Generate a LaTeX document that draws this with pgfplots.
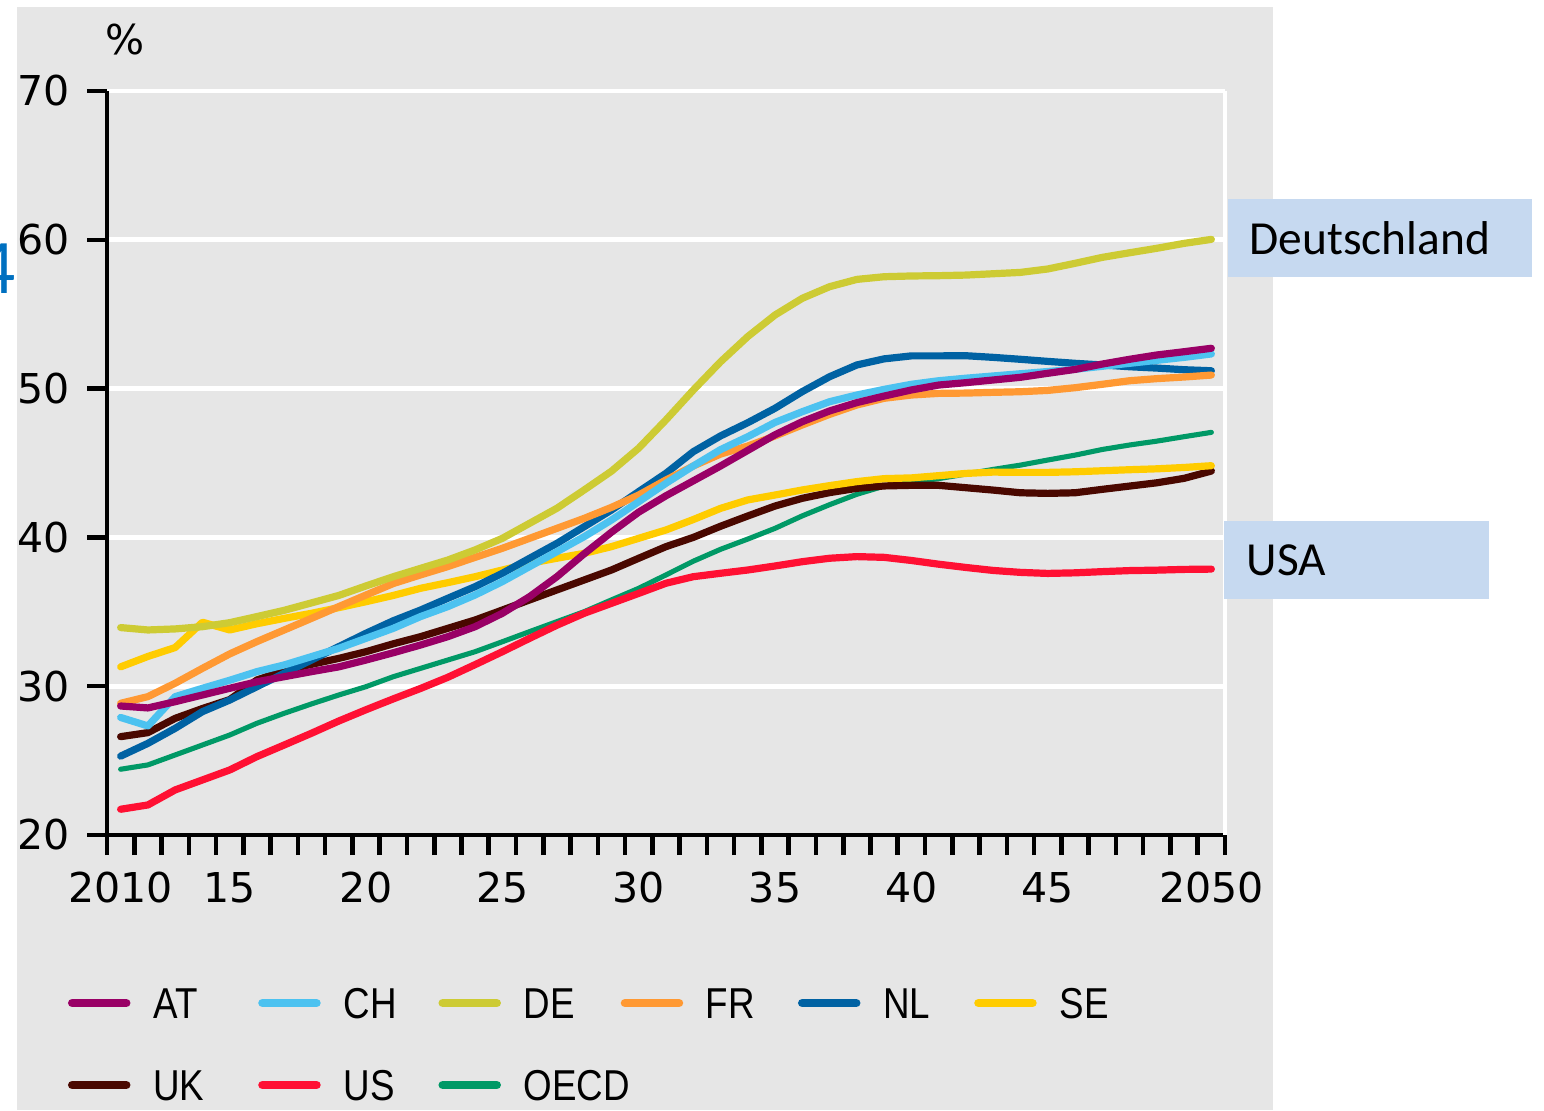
\documentclass[border=0pt]{standalone}
\usepackage{pgfplots}
\pgfplotsset{compat=1.18}
\usepackage{pgfplotstable}
\usepackage{fontspec}
\setmainfont{DejaVu Sans}
\newfontfamily\legfont[FakeStretch=0.85]{Liberation Sans}
\newfontfamily\boxfont{Carlito}

\definecolor{cAT}{HTML}{990066}
\definecolor{cCH}{HTML}{4CC2F0}
\definecolor{cDE}{HTML}{CDCB34}
\definecolor{cFR}{HTML}{FF9933}
\definecolor{cNL}{HTML}{0062A3}
\definecolor{cSE}{HTML}{FFCC00}
\definecolor{cUK}{HTML}{4A0800}
\definecolor{cUS}{HTML}{FF1033}
\definecolor{cOECD}{HTML}{009966}
\definecolor{panel}{HTML}{E6E6E6}
\definecolor{boxblue}{HTML}{C6D9F0}
\definecolor{slideblue}{HTML}{0070C0}

\pgfplotstableread{
i AT CH DE FR NL SE UK US OECD
0 28.67 27.90 33.94 28.85 25.30 31.30 26.61 21.73 24.42
1 28.54 27.33 33.78 29.30 26.16 32.00 26.88 22.02 24.71
2 28.96 29.30 33.85 30.20 27.17 32.60 27.84 23.03 25.38
3 29.41 29.86 34.00 31.20 28.29 34.30 28.50 23.70 26.05
4 29.86 30.40 34.27 32.17 29.07 33.78 29.10 24.37 26.72
5 30.30 30.98 34.68 33.00 29.97 34.20 30.42 25.27 27.51
6 30.64 31.43 35.10 33.78 30.87 34.56 31.05 26.05 28.18
7 30.98 31.99 35.60 34.56 31.76 34.90 31.47 26.84 28.81
8 31.30 32.55 36.10 35.35 32.66 35.28 31.87 27.66 29.41
9 31.76 33.22 36.74 36.13 33.56 35.68 32.32 28.42 29.97
10 32.25 33.89 37.36 36.90 34.40 36.10 32.85 29.15 30.64
11 32.77 34.68 37.92 37.48 35.12 36.58 33.33 29.85 31.20
12 33.33 35.35 38.48 38.04 35.91 36.96 33.89 30.60 31.76
13 34.00 36.13 39.16 38.66 36.69 37.36 34.45 31.45 32.32
14 34.90 37.03 39.94 39.27 37.59 37.81 35.12 32.32 32.99
15 36.02 38.04 40.95 39.94 38.60 38.26 35.80 33.22 33.67
16 37.36 39.04 41.96 40.61 39.60 38.60 36.47 34.10 34.34
17 38.90 40.05 43.19 41.28 40.72 38.93 37.14 34.90 35.01
18 40.35 41.17 44.45 42.02 41.84 39.38 37.81 35.57 35.80
19 41.70 42.40 46.00 42.85 43.08 39.94 38.60 36.24 36.58
20 42.80 43.64 47.90 43.86 44.31 40.50 39.38 36.92 37.48
21 43.80 44.80 49.90 44.80 45.76 41.20 40.00 37.36 38.40
22 44.80 45.90 51.80 45.60 46.82 41.95 40.75 37.59 39.20
23 45.85 46.77 53.50 46.14 47.71 42.52 41.44 37.81 39.89
24 46.90 47.73 54.95 46.82 48.68 42.85 42.11 38.08 40.61
25 47.78 48.45 56.07 47.56 49.80 43.19 42.63 38.37 41.45
26 48.50 49.12 56.85 48.27 50.80 43.48 43.01 38.60 42.20
27 49.06 49.57 57.34 48.90 51.59 43.75 43.30 38.71 42.90
28 49.50 49.95 57.52 49.35 52.00 43.95 43.46 38.66 43.45
29 49.91 50.29 57.57 49.57 52.20 44.00 43.50 38.45 43.72
30 50.24 50.53 57.59 49.68 52.20 44.15 43.50 38.20 43.95
31 50.40 50.70 57.63 49.70 52.21 44.30 43.34 37.98 44.26
32 50.58 50.85 57.72 49.75 52.10 44.39 43.18 37.78 44.57
33 50.76 51.00 57.81 49.79 51.97 44.37 43.00 37.65 44.86
34 51.03 51.15 58.04 49.88 51.83 44.37 42.96 37.58 45.20
35 51.29 51.30 58.42 50.06 51.70 44.41 43.00 37.62 45.53
36 51.65 51.50 58.82 50.29 51.59 44.48 43.23 37.70 45.91
37 51.97 51.70 59.13 50.53 51.47 44.55 43.45 37.77 46.21
38 52.26 51.90 59.43 50.67 51.38 44.61 43.67 37.80 46.47
39 52.48 52.10 59.76 50.78 51.27 44.70 43.97 37.85 46.77
40 52.71 52.33 60.03 50.91 51.20 44.82 44.46 37.87 47.06
}\data

\begin{document}
\begin{tikzpicture}
\useasboundingbox (0,0) rectangle (15.44,11.10);
\fill[panel] (0.17,0) rectangle (12.73,11.03);
\node[anchor=base east, inner sep=0pt, text=slideblue, font=\boxfont\fontsize{22}{26}\selectfont] at (0.16,8.17) {4};
\begin{axis}[
  scale only axis, width=11.18cm, height=7.44cm,
  at={(1.07cm,2.75cm)}, anchor=south west,
  xmin=-0.5, xmax=40.5, ymin=20, ymax=70,
  axis lines=left,
  axis line style={-, black, line width=1.3pt},
  tick align=outside,
  major tick length=0.2cm,
  tick style={black, line width=1.3pt},
  ymajorgrids,
  grid style={white, line width=1.4pt},
  ytick={20,30,40,50,60,70},
  /pgf/number format/assume math mode=true,
  ticklabel style={font=\fontsize{11.7}{14}\selectfont},
  yticklabel style={anchor=east, xshift=-0.05cm},
  xtick={-0.5,0.5,...,40.5},
  xticklabels={},
  extra x ticks={0,4,9,14,19,24,29,34,40},
  extra x tick labels={2010,15,20,25,30,35,40,45,2050},
  extra x tick style={major tick length=0pt, xticklabel style={anchor=center, yshift=-0.53cm}},
  clip=false,
  legend style={at={(axis description cs:-0.0349,-0.205)}, anchor=north west,
    draw=none, fill=none, inner sep=0pt, outer sep=0pt,
    column sep=0pt, row sep=0.51cm,
    font=\legfont\fontsize{12.3}{14}\selectfont,
    nodes={inner sep=0pt, text height=0.31cm, text depth=0pt}},
  legend columns=6,
  legend cell align=left,
  legend image code/.code={%
    \draw[line width=0.085cm, line cap=round] (0.04cm,0cm) -- (0.58cm,0cm);
    \path[draw=none, fill=none] (0cm,-0.01cm) rectangle (0.85cm,0.01cm);},
  every axis plot/.append style={line width=2.05pt, line cap=round, line join=round},
]
\addlegendimage{color=cAT}\addlegendentry{\makebox[1.05cm][l]{AT}}
\addlegendimage{color=cCH}\addlegendentry{\makebox[0.95cm][l]{CH}}
\addlegendimage{color=cDE}\addlegendentry{\makebox[0.97cm][l]{DE}}
\addlegendimage{color=cFR}\addlegendentry{\makebox[0.92cm][l]{FR}}
\addlegendimage{color=cNL}\addlegendentry{\makebox[0.91cm][l]{NL}}
\addlegendimage{color=cSE}\addlegendentry{\makebox[0.6cm][l]{SE}}
\addlegendimage{color=cUK}\addlegendentry{\makebox[1.05cm][l]{UK}}
\addlegendimage{color=cUS}\addlegendentry{\makebox[0.95cm][l]{US}}
\addlegendimage{color=cOECD}\addlegendentry{\makebox[0.97cm][l]{OECD}}

\addplot[cOECD, line width=1.45pt, forget plot] table[x=i, y=OECD] {\data};
\addplot[cUS, forget plot] table[x=i, y=US] {\data};
\addplot[cUK, forget plot] table[x=i, y=UK] {\data};
\addplot[cSE, forget plot] table[x=i, y=SE] {\data};
\addplot[cNL, forget plot] table[x=i, y=NL] {\data};
\addplot[cFR, forget plot] table[x=i, y=FR] {\data};
\addplot[cDE, forget plot] table[x=i, y=DE] {\data};
\addplot[cCH, forget plot] table[x=i, y=CH] {\data};
\addplot[cAT, forget plot] table[x=i, y=AT] {\data};

\draw[white, line width=1.2pt] (axis cs:40.5,20) -- (axis cs:40.5,70);
\end{axis}
\node[font=\fontsize{11.7}{14}\selectfont, inner sep=0pt] at (1.25,10.70) {\%};
\fill[boxblue] (12.28,8.33) rectangle (15.32,9.11);
\node[anchor=base west, inner sep=0pt, font=\boxfont\fontsize{13.5}{16}\selectfont] at (12.49,8.56) {Deutschland};
\fill[boxblue] (12.24,5.11) rectangle (14.89,5.89);
\node[anchor=base west, inner sep=0pt, font=\boxfont\fontsize{13.5}{16}\selectfont] at (12.46,5.35) {USA};
\end{tikzpicture}
\end{document}
